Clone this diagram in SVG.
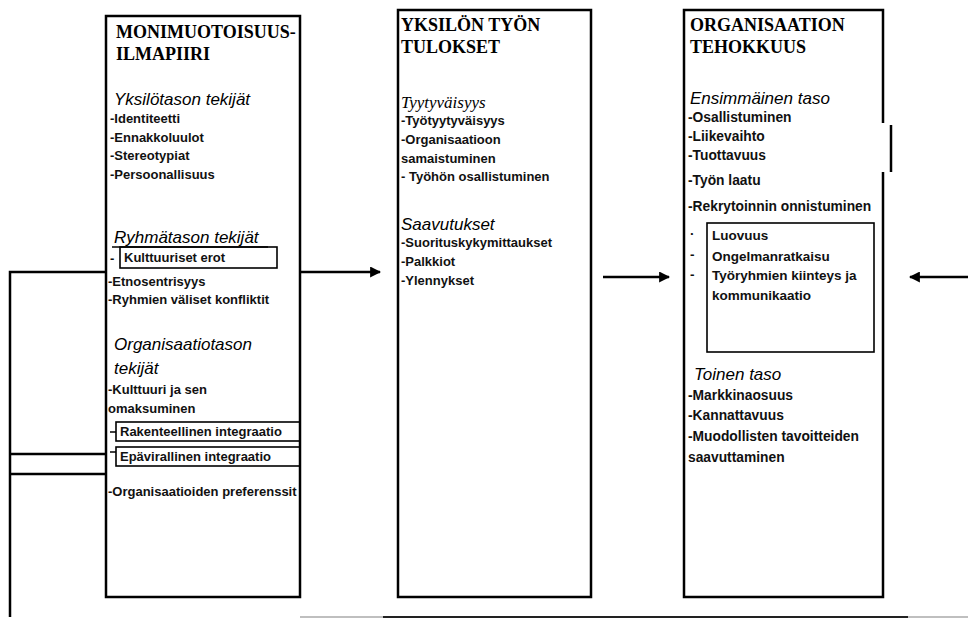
<svg xmlns="http://www.w3.org/2000/svg" width="968" height="619" viewBox="0 0 968 619">
<style>
.box{fill:none;stroke:#000;stroke-width:2.5}
.ibox{fill:none;stroke:#000;stroke-width:1.6}
.ln{fill:none;stroke:#000;stroke-width:2.5}
.t{font-family:"Liberation Serif",serif;font-weight:bold;font-size:18px;fill:#000}
.h{font-family:"Liberation Sans",sans-serif;font-style:italic;font-size:17px;fill:#000}
.hs{font-family:"Liberation Serif",serif;font-style:italic;font-size:17px;fill:#000}
.i{font-family:"Liberation Sans",sans-serif;font-weight:bold;font-size:13px;fill:#111}
.ir{font-family:"Liberation Sans",sans-serif;font-weight:bold;font-size:13.8px;fill:#111}
.ii{font-family:"Liberation Sans",sans-serif;font-weight:bold;font-size:13.5px;fill:#111}
</style>
<defs>
<marker id="ah" viewBox="0 0 10 10" refX="9" refY="5" markerWidth="4.4" markerHeight="4.4" orient="auto" markerUnits="strokeWidth">
<path d="M0,0 L10,5 L0,10 Z" fill="#000"/>
</marker>
</defs>

<g id="connectors">
<path class="ln" d="M106,272 H10 V617"/>
<line class="ln" x1="10" y1="454" x2="106" y2="454"/>
<line class="ln" x1="10" y1="474" x2="106" y2="474"/>
<line class="ln" x1="300" y1="272" x2="380" y2="272" marker-end="url(#ah)"/>
<line class="ln" x1="603" y1="277" x2="669" y2="277" marker-end="url(#ah)"/>
<line class="ln" x1="968" y1="277" x2="910" y2="277" marker-end="url(#ah)"/>
<line x1="300" y1="617" x2="968" y2="617" stroke="#aaa" stroke-width="1.5"/>
<line x1="383" y1="617" x2="908" y2="617" stroke="#222" stroke-width="2"/>
</g>

<g id="monimuotoisuusilmapiiri">
<rect class="box" x="106" y="16" width="194" height="581"/>
<text class="t" x="116" y="38">MONIMUOTOISUUS-</text>
<text class="t" x="116" y="60">ILMAPIIRI</text>
<text class="h" x="114" y="105">Yksilötason tekijät</text>
<text class="i" x="110" y="123">-Identiteetti</text>
<text class="i" x="110" y="142">-Ennakkoluulot</text>
<text class="i" x="110" y="160">-Stereotypiat</text>
<text class="i" x="110" y="179">-Persoonallisuus</text>
<text class="h" x="114" y="243">Ryhmätason tekijät</text>
<line x1="112" y1="247" x2="268" y2="247" stroke="#000" stroke-width="1.5"/>
<text class="i" x="110" y="263">-</text>
<rect class="ibox" x="120" y="247" width="157" height="21"/>
<text class="i" x="124" y="262">Kulttuuriset erot</text>
<text class="i" x="108" y="286">-Etnosentrisyys</text>
<text class="i" x="108" y="304">-Ryhmien väliset konfliktit</text>
<text class="h" x="114" y="350">Organisaatiotason</text>
<text class="h" x="114" y="374">tekijät</text>
<text class="i" x="108" y="394">-Kulttuuri ja sen</text>
<text class="i" x="108" y="413">omaksuminen</text>
<line x1="110" y1="432" x2="116" y2="432" stroke="#000" stroke-width="1.5"/>
<rect class="ibox" x="116" y="422" width="184" height="19"/>
<text class="i" x="120" y="436">Rakenteellinen integraatio</text>
<line x1="110" y1="452" x2="116" y2="452" stroke="#000" stroke-width="1.5"/>
<rect class="ibox" x="116" y="447" width="184" height="19" stroke-width="2"/>
<text class="i" x="120" y="461">Epävirallinen integraatio</text>
<text class="i" x="108" y="496">-Organisaatioiden preferenssit</text>
</g>

<g id="yksilon-tyon-tulokset">
<rect class="box" x="398" y="10" width="193" height="587"/>
<text class="t" x="401" y="31">YKSILÖN TYÖN</text>
<text class="t" x="401" y="53">TULOKSET</text>
<text class="hs" x="401" y="108">Tyytyväisyys</text>
<text class="i" x="401" y="125">-Työtyytyväisyys</text>
<text class="i" x="401" y="144">-Organisaatioon</text>
<text class="i" x="401" y="163">samaistuminen</text>
<text class="i" x="401" y="181">- Työhön osallistuminen</text>
<text class="h" x="401" y="230">Saavutukset</text>
<text class="i" x="401" y="247">-Suorituskykymittaukset</text>
<text class="i" x="401" y="266">-Palkkiot</text>
<text class="i" x="401" y="285">-Ylennykset</text>
</g>

<g id="organisaation-tehokkuus">
<path class="box" d="M883,123 V10 H684 V597 H883 V172"/>
<line class="ln" x1="891" y1="125" x2="891" y2="172"/>
<text class="t" x="690" y="31">ORGANISAATION</text>
<text class="t" x="690" y="53">TEHOKKUUS</text>
<text class="h" x="690" y="104">Ensimmäinen taso</text>
<text class="ir" x="688" y="122">-Osallistuminen</text>
<text class="ir" x="688" y="141">-Liikevaihto</text>
<text class="ir" x="688" y="160">-Tuottavuus</text>
<text class="ir" x="688" y="185">-Työn laatu</text>
<text class="ir" x="688" y="211">-Rekrytoinnin onnistuminen</text>
<rect class="ibox" x="707" y="223" width="167" height="129" stroke-width="2"/>
<text class="ii" x="690" y="238">·</text>
<text class="ii" x="690" y="259">-</text>
<text class="ii" x="690" y="279">-</text>
<text class="ii" x="712" y="240">Luovuus</text>
<text class="ii" x="712" y="261">Ongelmanratkaisu</text>
<text class="ii" x="712" y="280">Työryhmien kiinteys ja</text>
<text class="ii" x="712" y="300">kommunikaatio</text>
<text class="h" x="694" y="380">Toinen taso</text>
<text class="ir" x="688" y="400">-Markkinaosuus</text>
<text class="ir" x="688" y="420">-Kannattavuus</text>
<text class="ir" x="688" y="441">-Muodollisten tavoitteiden</text>
<text class="ir" x="688" y="462">saavuttaminen</text>
</g>
</svg>
